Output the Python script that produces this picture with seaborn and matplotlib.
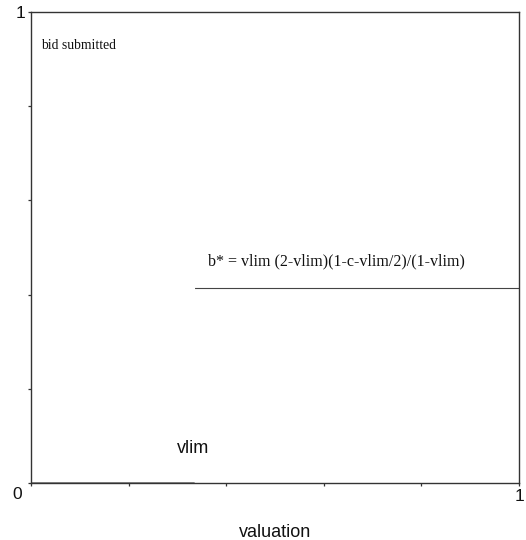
"""Bid function chart: bid submitted against valuation."""

import matplotlib
matplotlib.use("Agg")
import matplotlib.pyplot as plt
import pandas as pd
import seaborn as sns

# values
vlim = 0.334
bstar = 0.414
tick_pos = [0.0, 0.2, 0.4, 0.6, 0.8, 1.0]
x_tick_labels = ["", "", "", "", "", "1"]
y_tick_labels = ["", "", "", "", "", "1"]

low = pd.DataFrame({"valuation": [0.0, vlim], "bid": [0.0, 0.0]})
high = pd.DataFrame({"valuation": [vlim, 1.0], "bid": [bstar, bstar]})

sns.set_theme(style="ticks")
plt.rcParams["font.family"] = ["Liberation Sans", "DejaVu Sans"]

fig = plt.figure(figsize=(5.26, 5.40), dpi=100)
ax = fig.add_axes([0.0589, 0.1056, 0.9278, 0.8722])

sns.lineplot(data=low, x="valuation", y="bid", ax=ax, color="#808080", lw=1.3)
sns.lineplot(data=high, x="valuation", y="bid", ax=ax, color="#444444", lw=0.8,
             marker="|", markevery=[0], markersize=4, markeredgewidth=0.8)

ax.set_xlim(0, 1)
ax.set_ylim(0, 1)
ax.set_xticks(tick_pos)
ax.set_xticklabels(x_tick_labels)
ax.set_yticks(tick_pos)
ax.set_yticklabels(y_tick_labels)
ax.tick_params(length=2.5, width=0.9, color="#333333", labelsize=12.5, pad=1.5,
               labelcolor="#111111")
for side in ["left", "bottom", "top", "right"]:
    ax.spines[side].set_visible(True)
    ax.spines[side].set_color("#333333")
    ax.spines[side].set_linewidth(1.0)

ax.set_xlabel("valuation", fontsize=13, va="baseline", color="#111111")
ax.xaxis.set_label_coords(0.5, -0.1146)
ax.set_ylabel("")
ax.text(-0.018, -0.008, "0", transform=ax.transAxes, ha="right", va="top",
        fontsize=12.5, color="#111111")

ax.text(0.0205, 0.921, "bid submitted", transform=ax.transAxes, fontsize=9.8,
        family=["Liberation Serif"], va="baseline", color="#111111")
ax.text(vlim + 0.029, bstar + 0.049, "b* = vlim (2-vlim)(1-c-vlim/2)/(1-vlim)",
        fontsize=11.5, family=["Liberation Serif"], va="baseline", color="#111111")
ax.text(vlim - 0.035, 0.0637, "vlim", fontsize=13, va="baseline", color="#111111")

fig.savefig("out.png", dpi=100)
